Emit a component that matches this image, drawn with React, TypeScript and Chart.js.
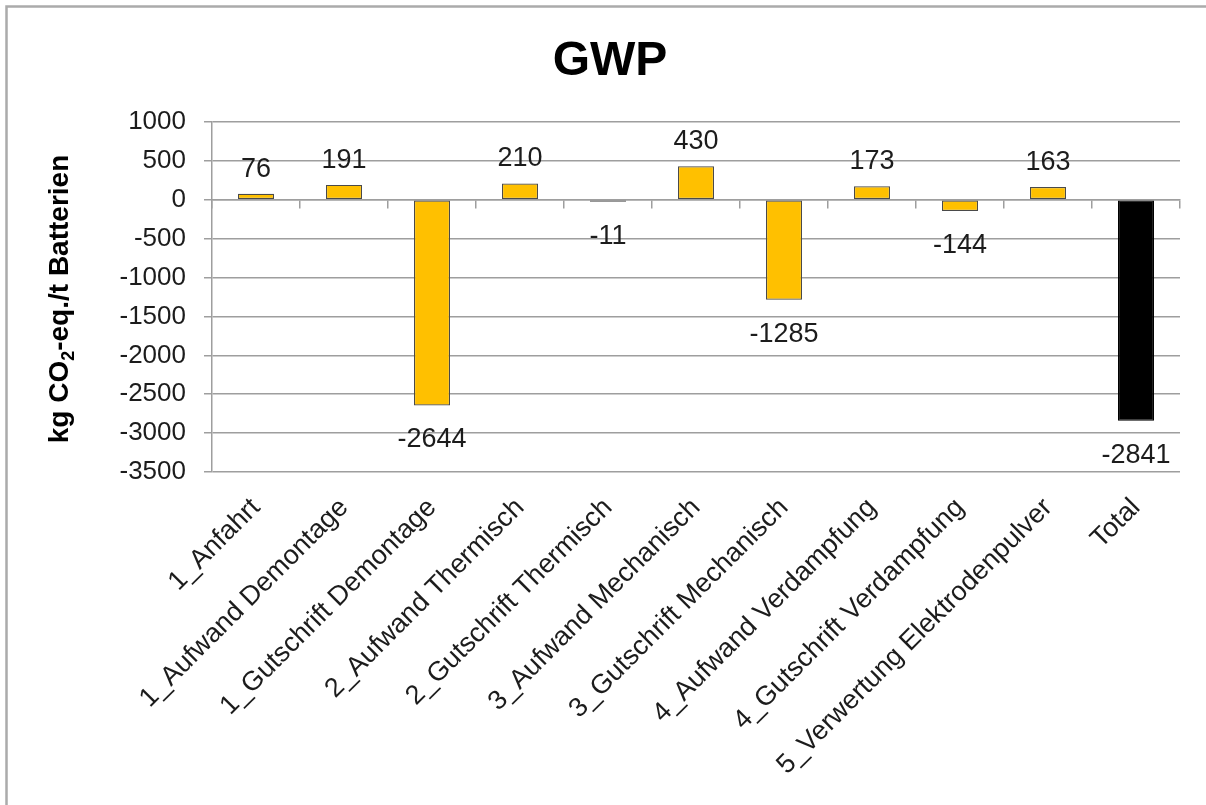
import React, { useEffect, useRef } from "react";
import { Chart, registerables } from "chart.js";

Chart.register(...registerables);

// Process steps of the battery recycling chain and the summed result
const categories = [
  "1_Anfahrt",
  "1_Aufwand Demontage",
  "1_Gutschrift Demontage",
  "2_Aufwand Thermisch",
  "2_Gutschrift Thermisch",
  "3_Aufwand Mechanisch",
  "3_Gutschrift Mechanisch",
  "4_Aufwand Verdampfung",
  "4_Gutschrift Verdampfung",
  "5_Verwertung Elektrodenpulver",
  "Total",
];

// Global warming potential per step, kg CO2-eq. per tonne of batteries
const gwpValues = [76, 191, -2644, 210, -11, 430, -1285, 173, -144, 163, -2841];

const yTickValues = [1000, 500, 0, -500, -1000, -1500, -2000, -2500, -3000, -3500];

const chartTitle = "GWP";
// Axis title pieces: text before the subscript, the subscript, text after it
const yTitleParts = ["kg CO", "2", "-eq./t Batterien"];

const FONT = '"Liberation Sans", Arial, Helvetica, sans-serif';
const GRID = "#9e9e9e";
const TEXT = "#1c1c1c";
const STEP_COLOR = "#FFC000";
const TOTAL_COLOR = "#000000";

const W = 1206;
const H = 805;

const framePlugin = {
  id: "frame",
  beforeDraw(chart: any) {
    const { ctx, width, height } = chart;
    ctx.save();
    ctx.fillStyle = "#ffffff";
    ctx.fillRect(0, 0, width, height);
    ctx.strokeStyle = "#ababab";
    ctx.lineWidth = 2.5;
    ctx.beginPath();
    ctx.moveTo(width, 6.5);
    ctx.lineTo(6.5, 6.5);
    ctx.lineTo(6.5, height);
    ctx.stroke();
    ctx.restore();
  },
};

const valueLabelPlugin = {
  id: "valueLabels",
  afterDatasetsDraw(chart: any) {
    const { ctx } = chart;
    const meta = chart.getDatasetMeta(0);
    const data = chart.data.datasets[0].data as number[];
    ctx.save();
    ctx.font = `27px ${FONT}`;
    ctx.fillStyle = TEXT;
    ctx.textAlign = "center";
    ctx.textBaseline = "alphabetic";
    meta.data.forEach((bar: any, i: number) => {
      const v = data[i];
      const y = v >= 0 ? bar.y - 17 : bar.y + 42;
      ctx.fillText(String(v), bar.x, y);
    });
    ctx.restore();
  },
};

const titlePlugin = {
  id: "titles",
  afterDraw(chart: any) {
    const { ctx, chartArea } = chart;
    ctx.save();
    // main title
    ctx.font = `bold 48px ${FONT}`;
    ctx.fillStyle = "#000000";
    ctx.textAlign = "center";
    ctx.textBaseline = "alphabetic";
    ctx.fillText(chartTitle, (chartArea.left + chartArea.right) / 2 - 86, 75);

    // rotated value-axis title with subscript
    const mainFont = `bold 28px ${FONT}`;
    const subFont = `bold 18px ${FONT}`;
    ctx.font = mainFont;
    const w0 = ctx.measureText(yTitleParts[0]).width;
    const w2 = ctx.measureText(yTitleParts[2]).width;
    ctx.font = subFont;
    const w1 = ctx.measureText(yTitleParts[1]).width;
    const total = w0 + w1 + w2;
    ctx.translate(68, (chartArea.top + chartArea.bottom) / 2 + 2);
    ctx.rotate(-Math.PI / 2);
    ctx.textAlign = "left";
    let x = -total / 2;
    ctx.font = mainFont;
    ctx.fillText(yTitleParts[0], x, 0);
    x += w0;
    ctx.font = subFont;
    ctx.fillText(yTitleParts[1], x, 6);
    x += w1;
    ctx.font = mainFont;
    ctx.fillText(yTitleParts[2], x, 0);
    ctx.restore();
  },
};

export default function App() {
  const canvasRef = useRef<HTMLCanvasElement | null>(null);

  useEffect(() => {
    const canvas = canvasRef.current;
    if (!canvas) return;

    const barColors = categories.map((c) => (c === "Total" ? TOTAL_COLOR : STEP_COLOR));
    const barBorders = categories.map((c) => (c === "Total" ? TOTAL_COLOR : "#4a4a4a"));

    const chart = new Chart(canvas, {
      type: "bar",
      data: {
        labels: categories,
        datasets: [
          {
            data: gwpValues,
            backgroundColor: barColors,
            borderColor: barBorders,
            borderWidth: 1.2,
            borderSkipped: false,
            minBarLength: 2,
            barPercentage: 0.41,
            categoryPercentage: 1,
          },
        ],
      },
      options: {
        responsive: false,
        animation: false,
        devicePixelRatio: 1,
        layout: { padding: { top: 122, right: 26, left: 0, bottom: 0 } },
        plugins: {
          legend: { display: false },
          tooltip: { enabled: false },
          title: { display: false },
        },
        scales: {
          x: {
            type: "category",
            position: "bottom",
            offset: true,
            grid: { display: false, drawTicks: false },
            border: { display: false },
            ticks: {
              autoSkip: false,
              maxRotation: 45,
              minRotation: 45,
              padding: 20,
              color: TEXT,
              font: { family: FONT, size: 27 },
            },
            afterFit: (s: any) => {
              s.height = 333;
            },
          },
          x0: {
            type: "category",
            position: { y: 0 },
            offset: true,
            grid: {
              offset: true,
              drawOnChartArea: false,
              drawTicks: true,
              tickLength: 8,
              color: GRID,
              lineWidth: 1.5,
            },
            border: { display: true, color: GRID, width: 1.5 },
            ticks: { display: false },
          },
          y: {
            min: -3500,
            max: 1000,
            afterBuildTicks: (s: any) => {
              s.ticks = yTickValues.map((v) => ({ value: v }));
            },
            ticks: {
              padding: 18,
              color: TEXT,
              font: { family: FONT, size: 26 },
              callback: (v: any) => String(v),
            },
            grid: { color: GRID, lineWidth: 1.5, tickLength: 8, drawTicks: true },
            border: { color: GRID, width: 1.5 },
            afterFit: (s: any) => {
              s.width = 212;
            },
          },
        },
      },
      plugins: [framePlugin, valueLabelPlugin, titlePlugin],
    });

    return () => {
      chart.destroy();
    };
  }, []);

  return (
    <div
      style={{
        position: "absolute",
        left: 0,
        top: 0,
        width: W,
        height: H,
        overflow: "hidden",
        background: "#ffffff",
      }}
    >
      <canvas
        ref={canvasRef}
        width={W}
        height={H}
        style={{ display: "block", width: `${W}px`, height: `${H}px` }}
      />
    </div>
  );
}
